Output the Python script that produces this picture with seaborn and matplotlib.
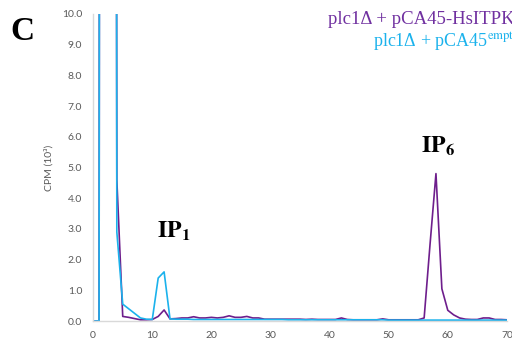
import numpy as np
import pandas as pd
import seaborn as sns
import matplotlib
matplotlib.use("Agg")
import matplotlib.pyplot as plt

# fraction number (0..70)
fracao = list(range(71))

# CPM (10^3) for plc1Δ + pCA45-HsITPK1
hsitpk = [0, 0, 250, 150, 4.6, 0.15, 0.12, 0.08, 0.04, 0.04,
          0.05, 0.15, 0.36, 0.07, 0.08, 0.1, 0.1, 0.14, 0.1, 0.1,
          0.12, 0.1, 0.12, 0.17, 0.12, 0.12, 0.15, 0.1, 0.1, 0.06,
          0.06, 0.06, 0.06, 0.06, 0.06, 0.06, 0.05, 0.06, 0.05, 0.05,
          0.05, 0.05, 0.1, 0.05, 0.04, 0.04, 0.04, 0.04, 0.04, 0.07,
          0.04, 0.04, 0.04, 0.04, 0.04, 0.04, 0.1, 2.5, 4.8, 1.05,
          0.35, 0.2, 0.1, 0.06, 0.05, 0.05, 0.1, 0.1, 0.05, 0.05,
          0.04]

# CPM (10^3) for plc1Δ + pCA45 empty
empty = [0, 0, 250, 200, 2.9, 0.55, 0.4, 0.25, 0.1, 0.06,
         0.05, 1.4, 1.6, 0.07, 0.06, 0.06, 0.06, 0.05, 0.05, 0.05,
         0.05, 0.05, 0.05, 0.05, 0.05, 0.05, 0.05, 0.05, 0.05, 0.05,
         0.05, 0.05, 0.05, 0.04, 0.04, 0.04, 0.04, 0.04, 0.04, 0.04,
         0.04, 0.04, 0.04, 0.04, 0.04, 0.04, 0.04, 0.04, 0.04, 0.04,
         0.03, 0.03, 0.03, 0.03, 0.03, 0.03, 0.03, 0.03, 0.03, 0.03,
         0.03, 0.03, 0.03, 0.03, 0.03, 0.03, 0.03, 0.03, 0.03, 0.03,
         0.03]

roxo = "#6E1E8C"
azul = "#1BB2EC"

df = pd.DataFrame({
    "fracao": fracao * 2,
    "cpm": hsitpk + empty,
    "amostra": ["HsITPK1"] * len(fracao) + ["empty"] * len(fracao),
})

sns.set_theme(style="white")
plt.rcParams["font.family"] = ["Lato", "DejaVu Sans"]
plt.rcParams["mathtext.fontset"] = "stix"

fig = plt.figure(figsize=(5.12, 3.39), dpi=100)
ax = fig.add_axes([0.182, 0.053, 0.808, 0.906])

sns.lineplot(data=df, x="fracao", y="cpm", hue="amostra",
             palette={"HsITPK1": roxo, "empty": azul},
             linewidth=1.2, legend=False, ax=ax)

ax.set_xlim(0, 70)
ax.set_ylim(0, 10)
ax.set_xticks(range(0, 71, 10))
ax.set_yticks(np.arange(0, 10.1, 1.0))
ax.set_yticklabels([f"{v:.1f}" for v in np.arange(0, 10.1, 1.0)])
ax.tick_params(axis="both", length=0, labelsize=7.5, labelcolor="#595959")
ax.tick_params(axis="y", pad=8)
ax.tick_params(axis="x", pad=7)
ax.set_xlabel("")
ax.set_ylabel("CPM (10³)", fontsize=7.5, color="#595959", labelpad=6)

for s in ["top", "right"]:
    ax.spines[s].set_visible(False)
for s in ["left", "bottom"]:
    ax.spines[s].set_color("#D9D9D9")
    ax.spines[s].set_linewidth(1.0)

# panel letter and annotations
fig.text(10 / 512, 1 - 40 / 339, "C", fontsize=24, fontweight="bold",
         family="Liberation Serif", color="black")
fig.text(157 / 512, 1 - 238 / 339, r"$\mathbf{IP}_\mathbf{1}$", fontsize=17,
         color="black")
fig.text(421 / 512, 1 - 153 / 339, r"$\mathbf{IP}_\mathbf{6}$", fontsize=17,
         color="black")

fig.text(328 / 512, 1 - 24 / 339, "plc1Δ + pCA45-HsITPK1", fontsize=13.5,
         family="Liberation Serif", color="#7030A0")
fig.text(373 / 512, 1 - 47 / 339, r"plc1Δ + pCA45$^{\mathrm{empty}}$",
         fontsize=13, family="Liberation Serif", color=azul)

fig.savefig("out.png", dpi=100)
